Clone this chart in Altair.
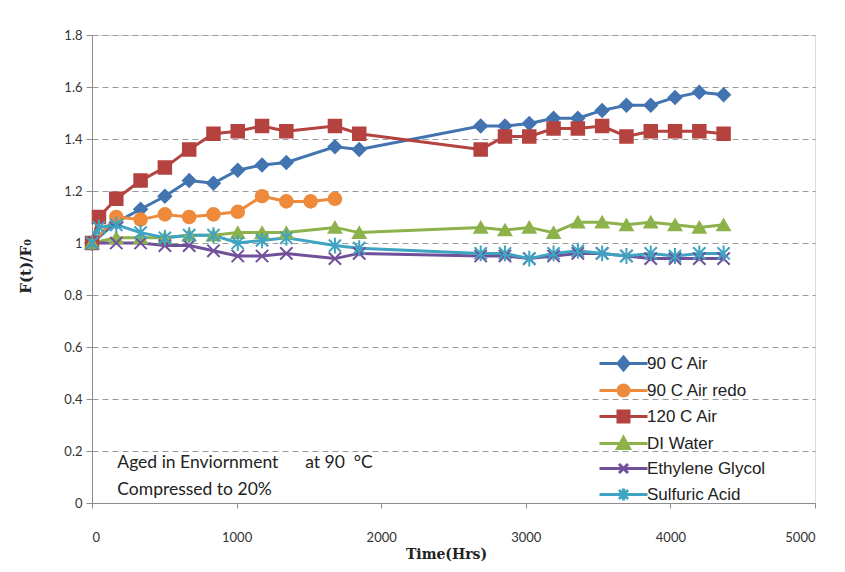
import altair as alt
import pandas as pd

series_names = ["90 C Air", "90 C Air redo", "120 C Air", "DI Water", "Ethylene Glycol", "Sulfuric Acid"]
marker_keys = ["m0", "m1", "m2", "m3", "m4", "m5"]
colors = ["#4274B0", "#ED8A3C", "#B4423F", "#8DB24B", "#71509A", "#3EA4C1"]

t_long = [0, 168, 336, 504, 672, 840, 1008, 1176, 1344, 1680, 1848,
          2688, 2856, 3024, 3192, 3360, 3528, 3696, 3864, 4032, 4200, 4368]

t_air90 = t_long
v_air90 = [1.00, 1.08, 1.13, 1.18, 1.24, 1.23, 1.28, 1.30, 1.31, 1.37, 1.36,
           1.45, 1.45, 1.46, 1.48, 1.48, 1.51, 1.53, 1.53, 1.56, 1.58, 1.57]

t_redo = [0, 168, 336, 504, 672, 840, 1008, 1176, 1344, 1512, 1680]
v_redo = [1.00, 1.10, 1.09, 1.11, 1.10, 1.11, 1.12, 1.18, 1.16, 1.16, 1.17]

t_air120 = [0, 48] + t_long[1:]
v_air120 = [1.00, 1.10, 1.17, 1.24, 1.29, 1.36, 1.42, 1.43, 1.45, 1.43, 1.45, 1.42,
            1.36, 1.41, 1.41, 1.44, 1.44, 1.45, 1.41, 1.43, 1.43, 1.43, 1.42]

t_water = t_long
v_water = [1.00, 1.02, 1.02, 1.02, 1.03, 1.03, 1.04, 1.04, 1.04, 1.06, 1.04,
           1.06, 1.05, 1.06, 1.04, 1.08, 1.08, 1.07, 1.08, 1.07, 1.06, 1.07]

t_glycol = t_long
v_glycol = [1.00, 1.00, 1.00, 0.99, 0.99, 0.97, 0.95, 0.95, 0.96, 0.94, 0.96,
            0.95, 0.95, 0.94, 0.95, 0.96, 0.96, 0.95, 0.94, 0.94, 0.94, 0.94]

t_acid = [0, 48] + t_long[1:]
v_acid = [1.00, 1.06, 1.07, 1.04, 1.02, 1.03, 1.03, 1.00, 1.01, 1.02, 0.99, 0.98,
          0.96, 0.96, 0.94, 0.96, 0.97, 0.96, 0.95, 0.96, 0.95, 0.96, 0.96]

NB = "\u00a0"
note_lines = ["Aged in Enviornment" + NB * 6 + "at 90" + NB * 2 + "\u00b0C", "Compressed to 20%"]
note_t = [175, 175]
note_v = [0.154, 0.05]

x_ticks = [0, 1000, 2000, 3000, 4000, 5000]
y_ticks = [0, 0.2, 0.4, 0.6, 0.8, 1.0, 1.2, 1.4, 1.6, 1.8]

all_t = [t_air90, t_redo, t_air120, t_water, t_glycol, t_acid]
all_v = [v_air90, v_redo, v_air120, v_water, v_glycol, v_acid]
rows = []
for name, key, ts, vs in zip(series_names, marker_keys, all_t, all_v):
    for t, v in zip(ts, vs):
        rows.append({"series": name, "mk": key, "t": t, "v": v})
df = pd.DataFrame(rows)
notes = pd.DataFrame({"txt": note_lines, "t": note_t, "v": note_v})

xpath = "M-1,-1L1,1M-1,1L1,-1"
apath = "M-1,-1L1,1M-1,1L1,-1M0,-1.3L0,1.3"
plot_shapes = ["diamond", "circle", "square", "triangle-up", xpath, apath]
plot_sizes = [160, 150, 190, 150, 110, 140]

line_seg = "M-4.8,0H4.8"
legend_markers = [
    "M-1.1,0L0,-1.3L1.1,0L0,1.3Z",
    "M-1.1,0A1.1,1.1 0 1,0 1.1,0A1.1,1.1 0 1,0 -1.1,0Z",
    "M-1.1,-1.1H1.1V1.1H-1.1Z",
    "M0,-1.2L1.2,1L-1.2,1Z",
    "M-0.9,-0.9L0.9,0.9M-0.9,0.9L0.9,-0.9",
    "M-0.9,-0.9L0.9,0.9M-0.9,0.9L0.9,-0.9M0,-1.2L0,1.2",
]
expr = "'" + line_seg + legend_markers[-1] + "'"
for name, mk in reversed(list(zip(series_names[:-1], legend_markers[:-1]))):
    expr = f"datum.value === '{name}' ? '{line_seg}{mk}' : ({expr})"

cscale = alt.Scale(domain=series_names, range=colors)


def make_legend():
    return alt.Legend(
        orient="none", legendX=523, legendY=320, padding=0,
        symbolSize=100, symbolStrokeWidth=3, labelOffset=15,
        rowPadding=3, labelFont="Liberation Sans", labelFontSize=17,
        labelColor="#222222", labelLimit=300, symbolOpacity=1,
        symbolType={"expr": expr},
        symbolStrokeColor={"expr": "scale('color', datum.value)"},
        symbolFillColor={"expr": "scale('color', datum.value)"},
    )


x_enc = alt.X("t:Q", scale=alt.Scale(domain=[0, 5000]),
              axis=alt.Axis(values=x_ticks, format="d", grid=False, tickSize=5,
                            labelPadding=23, titlePadding=3, titleX=354,
                            domainColor="#8c8c8c", tickColor="#8c8c8c",
                            labelFont="Lato", labelFontSize=13, labelColor="#333333",
                            titleFont="DejaVu Serif", titleFontSize=14,
                            titleFontWeight="bold", titleColor="#222222"),
              title="Time(Hrs)")
y_enc = alt.Y("v:Q", scale=alt.Scale(domain=[0, 1.8]),
              axis=alt.Axis(values=y_ticks, labelExpr="format(datum.value, '~g')",
                            grid=True, gridDash=[6, 4], gridColor="#9a9a9a", gridWidth=1,
                            tickSize=6, labelPadding=4,
                            domainColor="#8c8c8c", tickColor="#8c8c8c",
                            labelFont="Lato", labelFontSize=13, labelColor="#333333",
                            titleFont="DejaVu Serif", titleFontSize=15,
                            titleFontWeight="bold", titleColor="#222222",
                            titleX=-67, titleY=231, titleAngle=270,
                            titleAlign="center", titleBaseline="middle"),
              title="F(t)/F\u2080")

lines = alt.Chart(df).mark_line(strokeWidth=3).encode(
    x=x_enc, y=y_enc,
    color=alt.Color("series:N", scale=cscale, title=None, legend=make_legend()),
    order="t:Q",
)

points = alt.Chart(df).mark_point(filled=True, strokeWidth=2, opacity=1).encode(
    x="t:Q", y="v:Q",
    color=alt.Color("series:N", scale=cscale, title=None, legend=make_legend()),
    stroke=alt.Stroke("mk:N", scale=alt.Scale(domain=marker_keys, range=colors), legend=None),
    shape=alt.Shape("mk:N", scale=alt.Scale(domain=marker_keys, range=plot_shapes), legend=None),
    size=alt.Size("mk:N", scale=alt.Scale(domain=marker_keys, range=plot_sizes), legend=None),
)

text = alt.Chart(notes).mark_text(align="left", baseline="middle", font="Lato",
                                  fontSize=17.5, color="#222222").encode(
    x="t:Q", y="v:Q", text="txt:N")

chart = alt.layer(lines, points, text).properties(
    width=723, height=468,
    autosize=alt.AutoSizeParams(type="none"),
    padding={"left": 84, "top": 27, "right": 22, "bottom": 61},
).configure_view(stroke=None).configure(background="white")

chart.save("out.html", embed_options={"renderer": "svg", "actions": False})
